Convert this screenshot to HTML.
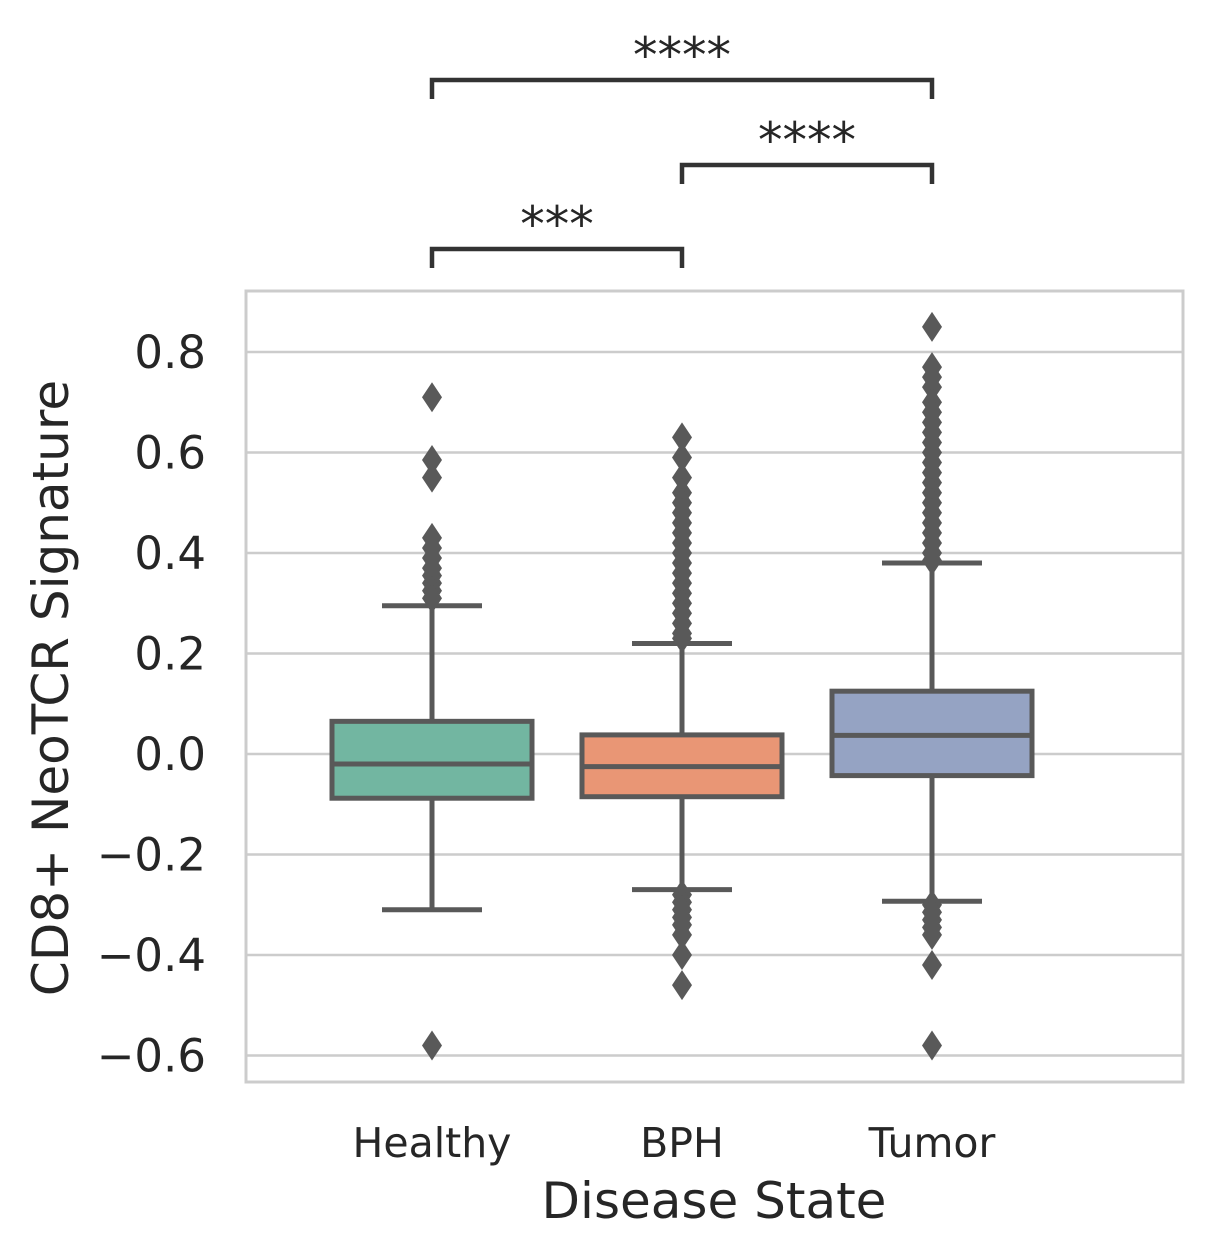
<!DOCTYPE html>
<html><head><meta charset="utf-8"><style>
html,body{margin:0;padding:0;background:#fff}
svg{display:block;font-family:"DejaVu Sans","Liberation Sans",sans-serif}
</style></head><body>
<svg id="chart" width="1211" height="1259" viewBox="0 0 1211 1259" xmlns="http://www.w3.org/2000/svg">
<g id="grid"></g>
<g id="boxes"></g>
<rect x="246" y="291" width="937" height="791" fill="none" stroke="#cccccc" stroke-width="3"/>
<g id="yticks"></g>
<g id="xticks"></g>
<g id="brackets"></g>
<text x="714" y="1218" font-size="50" fill="#262626" text-anchor="middle">Disease State</text>
<text transform="translate(68,688) rotate(-90)" font-size="50" fill="#262626" text-anchor="middle">CD8+ NeoTCR Signature</text>
</svg>
<script>
const categories = ["Healthy","BPH","Tumor"];
const colors = ["#72b6a1","#e99675","#95a3c3"];
const q1 = [-0.088,-0.085,-0.043];
const medians = [-0.020,-0.025,0.037];
const q3 = [0.065,0.038,0.125];
const whiskLo = [-0.31,-0.27,-0.293];
const whiskHi = [0.295,0.22,0.38];
const outliersHealthy = [0.71,0.585,0.55,0.43,0.41,0.39,0.37,0.355,0.34,0.325,0.31,-0.58];
const outliersBPH = [0.63,0.59,0.55,0.52,0.5,0.48,0.46,0.44,0.42,0.4,0.38,0.36,0.34,0.32,0.3,0.28,0.26,0.24,0.23,-0.28,-0.295,-0.31,-0.325,-0.34,-0.36,-0.40,-0.46];
const outliersTumor = [0.85,0.77,0.75,0.73,0.7,0.68,0.66,0.64,0.62,0.6,0.58,0.56,0.54,0.52,0.5,0.48,0.46,0.44,0.42,0.40,0.385,-0.30,-0.315,-0.33,-0.345,-0.36,-0.42,-0.58];
const outliers = [outliersHealthy,outliersBPH,outliersTumor];
const yTicks = [-0.6,-0.4,-0.2,0.0,0.2,0.4,0.6,0.8];
const yTickLabels = ["\u22120.6","\u22120.4","\u22120.2","0.0","0.2","0.4","0.6","0.8"];
const bracketPairs = [[0,2],[1,2],[0,1]];
const bracketLabels = ["****","****","***"];

const NS="http://www.w3.org/2000/svg";
const y = v => 754 - v*502.5;
const x = i => 432 + 250*i;
function mk(tag, attrs, parent){const e=document.createElementNS(NS,tag);for(const k in attrs)e.setAttribute(k,attrs[k]);parent.appendChild(e);return e;}
const grid=document.getElementById('grid'), boxes=document.getElementById('boxes');
const yt=document.getElementById('yticks'), xt=document.getElementById('xticks'), br=document.getElementById('brackets');
yTicks.forEach((v,i)=>{
  const l=mk('line',{x1:246,x2:1183,y1:y(v),y2:y(v),stroke:'#cccccc','stroke-width':2.5},grid);
  
  
  const t=mk('text',{x:206,y:y(v)+16,'font-size':45,fill:'#262626','text-anchor':'end'},yt);
  t.textContent=yTickLabels[i];
  
  
});
categories.forEach((c,i)=>{
  const cx=x(i), g=mk('g',{},boxes);
  
  
  const st={stroke:'#595959','stroke-width':5};
  mk('line',Object.assign({x1:cx,x2:cx,y1:y(q3[i]),y2:y(whiskHi[i])},st),g);
  mk('line',Object.assign({x1:cx,x2:cx,y1:y(q1[i]),y2:y(whiskLo[i])},st),g);
  mk('line',Object.assign({x1:cx-50,x2:cx+50,y1:y(whiskHi[i]),y2:y(whiskHi[i])},st),g);
  mk('line',Object.assign({x1:cx-50,x2:cx+50,y1:y(whiskLo[i]),y2:y(whiskLo[i])},st),g);
  mk('rect',Object.assign({x:cx-100,width:200,y:y(q3[i]),height:y(q1[i])-y(q3[i]),fill:colors[i]},st),g);
  mk('line',Object.assign({x1:cx-100,x2:cx+100,y1:y(medians[i]),y2:y(medians[i])},st),g);
  outliers[i].forEach(v=>{
    const p=mk('path',{d:`M${cx},${y(v)-15}L${cx+10},${y(v)}L${cx},${y(v)+15}L${cx-10},${y(v)}Z`,fill:'#595959'},g);
    
    
  });
  const t=mk('text',{x:cx,y:1157,'font-size':41,fill:'#262626','text-anchor':'middle'},xt);
  t.textContent=c;
  
  
});
const bY=[80,165,249];
bracketPairs.forEach((p,k)=>{
  const x1=x(p[0]),x2=x(p[1]),by=bY[k];
  const pl=mk('path',{d:`M${x1},${by+19}V${by}H${x2}V${by+19}`,fill:'none',stroke:'#333','stroke-width':4.5},br);
  
  
  const t=mk('text',{x:(x1+x2)/2,y:by-8,'font-size':49,fill:'#262626','text-anchor':'middle'},br);
  t.textContent=bracketLabels[k];
  
  
});
</script>
</body></html>
